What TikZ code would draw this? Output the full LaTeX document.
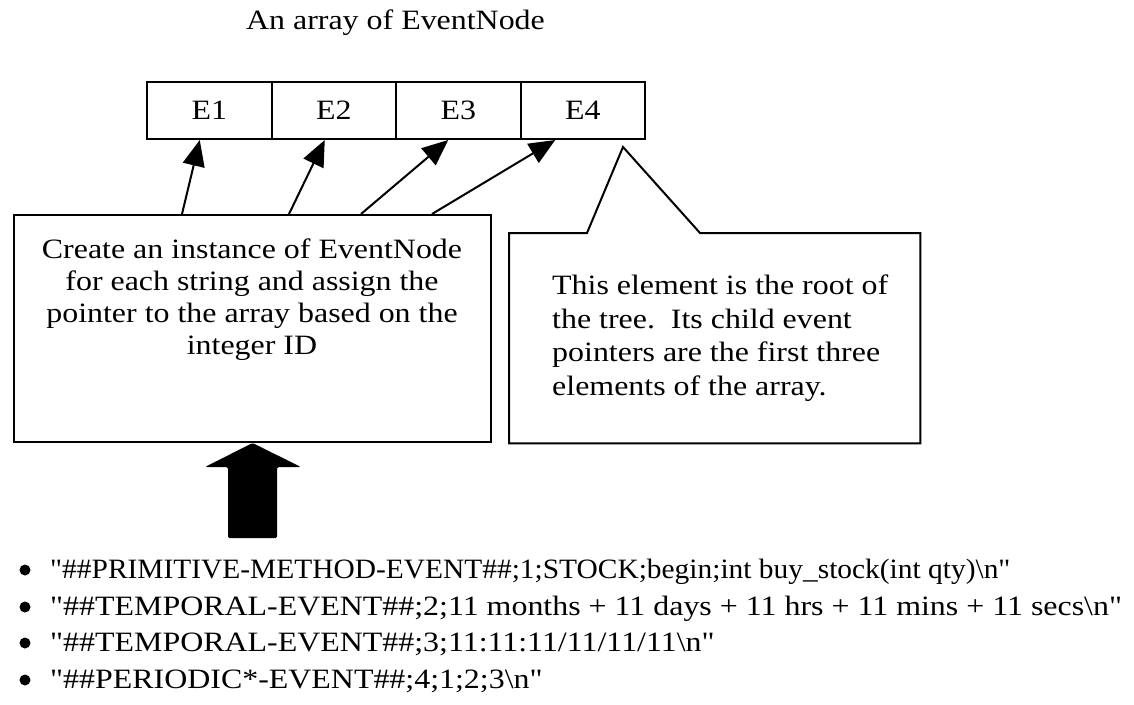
\documentclass[tikz,border=0pt]{standalone}
\usepackage{fontspec}
\setmainfont{Liberation Serif}[FakeStretch=1.14]
\newfontfamily\rawfont{Liberation Serif}[FakeStretch=1.14]
\usetikzlibrary{arrows.meta}
\begin{document}
\begin{tikzpicture}[x=1pt,y=-1pt,
  txt/.style={font=\fontsize{28}{32}\selectfont, inner sep=0pt},
  cell/.style={draw, line width=2pt, minimum width=124.5pt, minimum height=57pt, inner sep=0pt, font=\fontsize{28}{32}\selectfont},
  ptr/.style={line width=2pt, -{Triangle[length=26pt,width=22pt]}},
  box/.style={draw, line width=2pt, line join=miter},
  item/.style={font=\rawfont\fontsize{28}{32}\selectfont, inner sep=0pt, anchor=base west},
  ]
\useasboundingbox (0,0) rectangle (1134,704);
% title
\node[txt] (title) at (395.5,23) {An array of EventNode};
% array cells
\node[cell] (E1) at (209.25,110.5) {E1};
\node[cell] (E2) at (333.75,110.5) {E2};
\node[cell] (E3) at (458.25,110.5) {E3};
\node[cell] (E4) at (582.75,110.5) {E4};
% create box
\node[box, minimum width=477pt, minimum height=227pt, inner sep=0pt] (create) at (252.5,328.5) {};
\node[txt, align=center, anchor=north] (ctext) at (252,239) {Create an instance of EventNode\\for each string and assign the\\pointer to the array based on the\\integer ID};
% pointers
\draw[ptr] ([xshift=169pt]create.north west) -- ([xshift=-9.5pt]E1.south);
\draw[ptr] ([xshift=276pt]create.north west) -- ([xshift=-9pt]E2.south);
\draw[ptr] ([xshift=348pt]create.north west) -- ([xshift=-10pt]E3.south);
\draw[ptr] ([xshift=419pt]create.north west) -- ([xshift=-27.5pt]E4.south);
% callout
\node[minimum width=411pt, minimum height=210pt, inner sep=0pt, anchor=north west] (root) at (509,233) {};
\coordinate (rtip) at (623,147);
\draw[box] (root.north west) -- ([xshift=78pt]root.north west) -- (rtip) -- ([xshift=191pt]root.north west) -- (root.north east) -- (root.south east) -- (root.south west) -- cycle;
\node[font=\fontsize{28}{33.5}\selectfont, inner sep=0pt, align=left, anchor=north west] (rtext) at (552,275) {This element is the root of\\the tree.\ \ Its child event\\pointers are the first three\\elements of the array.};
% big arrow
\fill[rounded corners=1.5pt] (228,538) -- (228,467) -- (205,467) -- (create.south) -- (301,467) -- (277,467) -- (277,538) -- cycle;
% list
\foreach \yy in {578,615,651,688} \fill (25,\yy-8) circle (5.5pt);
\node[item] (l1) at (50,578) {\scalebox{0.922}[1]{"\#\#PRIMITIVE-METHOD-EVENT\#\#;1;STOCK;begin;int buy\_stock(int qty)\textbackslash n"}};
\node[item] (l2) at (50,615) {"\#\#TEMPORAL-EVENT\#\#;2;11 months + 11 days + 11 hrs + 11 mins + 11 secs\textbackslash n"};
\node[item] (l3) at (50,651) {"\#\#TEMPORAL-EVENT\#\#;3;11:11:11/11/11/11\textbackslash n"};
\node[item] (l4) at (50,688) {"\#\#PERIODIC*-EVENT\#\#;4;1;2;3\textbackslash n"};
\end{tikzpicture}
\end{document}
